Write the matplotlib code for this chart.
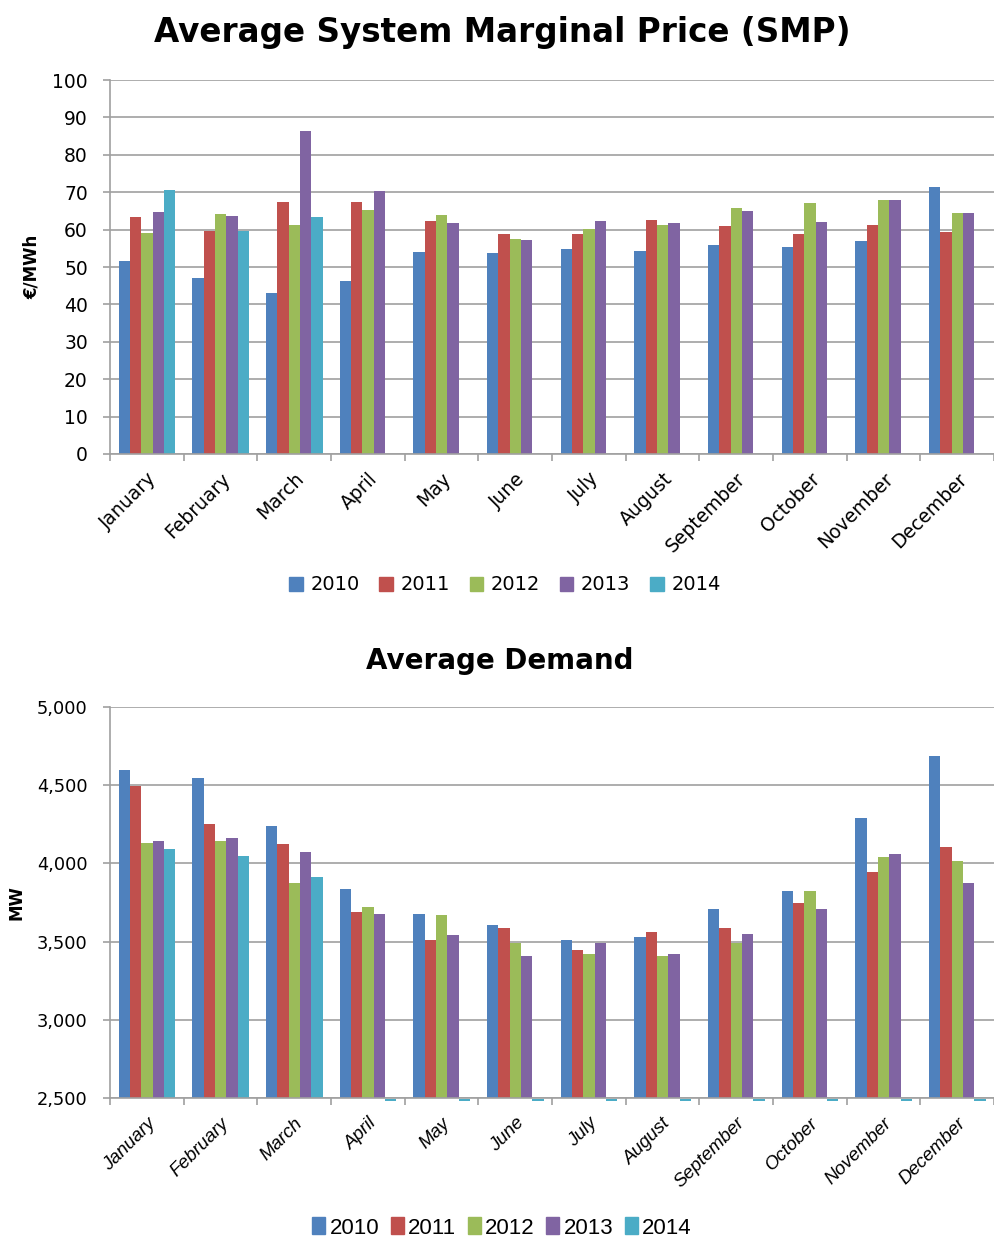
import numpy as np
import matplotlib
matplotlib.use('Agg')
import matplotlib.pyplot as plt
from matplotlib.ticker import FuncFormatter, MultipleLocator
from matplotlib.patches import Patch

plt.rcParams['font.family'] = ['DejaVu Sans']
narrow = ['Liberation Sans Narrow', 'Liberation Sans', 'DejaVu Sans']

months = ['January', 'February', 'March', 'April', 'May', 'June', 'July',
          'August', 'September', 'October', 'November', 'December']
years = ['2010', '2011', '2012', '2013', '2014']
colors = ['#4F81BD', '#C0504D', '#9BBB59', '#8064A2', '#4BACC6']

# Average SMP (EUR/MWh)
smp_2010 = [51.5, 47.1, 43.0, 46.2, 53.9, 53.8, 54.7, 54.2, 56.0, 55.3, 56.9, 71.3]
smp_2011 = [63.5, 59.6, 67.3, 67.3, 62.3, 58.7, 58.7, 62.7, 61.0, 58.9, 61.2, 59.4]
smp_2012 = [59.2, 64.3, 61.1, 65.3, 63.8, 57.6, 60.2, 61.3, 65.8, 67.0, 68.0, 64.5]
smp_2013 = [64.6, 63.6, 86.3, 70.4, 61.8, 57.1, 62.4, 61.8, 65.1, 62.1, 67.9, 64.5]
smp_2014 = [70.5, 59.5, 63.5, 0, 0, 0, 0, 0, 0, 0, 0, 0]

# Average demand (MW)
dem_2010 = [4595, 4546, 4241, 3835, 3677, 3607, 3511, 3528, 3705, 3825, 4290, 4684]
dem_2011 = [4497, 4249, 4121, 3688, 3511, 3588, 3449, 3558, 3588, 3748, 3944, 4102]
dem_2012 = [4132, 4140, 3876, 3724, 3667, 3492, 3422, 3409, 3492, 3825, 4042, 4012]
dem_2013 = [4140, 4162, 4072, 3677, 3539, 3409, 3492, 3422, 3547, 3705, 4061, 3876]
dem_2014 = [4091, 4044, 3914, 0, 0, 0, 0, 0, 0, 0, 0, 0]

smp = [smp_2010, smp_2011, smp_2012, smp_2013, smp_2014]
dem = [dem_2010, dem_2011, dem_2012, dem_2013, dem_2014]

fig = plt.figure(figsize=(9.94, 12.37), dpi=100)
ax1 = fig.add_axes([0.1107, 0.6330, 0.8893, 0.3023])
ax2 = fig.add_axes([0.1107, 0.1124, 0.8893, 0.3161])

x = np.arange(len(months))
bw = 1 / 6.5
offsets = (np.arange(5) - 2) * bw

grid_col = '#a0a0a0'


def style(ax):
    ax.set_xlim(-0.5, 11.5)
    for s in ['top', 'right']:
        ax.spines[s].set_visible(False)
    for s in ['left', 'bottom']:
        ax.spines[s].set_color(grid_col)
        ax.spines[s].set_linewidth(1.2)
    ax.yaxis.grid(True, color=grid_col, linewidth=1.2)
    ax.set_axisbelow(True)
    ax.set_xticks(np.arange(-0.5, 12, 1), minor=True)
    ax.set_xticks(x)
    ax.tick_params(axis='x', which='minor', length=5, color=grid_col, width=1.2)
    ax.tick_params(axis='y', length=5, color=grid_col, width=1.2, pad=11)


# top chart
for i in range(5):
    ax1.bar(x + offsets[i], smp[i], bw, color=colors[i], label=years[i])
style(ax1)
ax1.set_ylim(0, 100)
ax1.yaxis.set_major_locator(MultipleLocator(10))
ax1.tick_params(axis='y', labelsize=13.5)
ax1.tick_params(axis='x', which='major', length=0, pad=11)
ax1.set_xticklabels(months, rotation=45, ha='right', rotation_mode='anchor', fontsize=13.5)
ax1.set_ylabel('€/MWh', fontsize=12, fontweight='bold', labelpad=8)
fig.text(0.505, 0.974, 'Average System Marginal Price (SMP)', ha='center', va='center',
         fontsize=23.5, fontweight='bold')

# bottom chart
for i in range(5):
    ax2.bar(x + offsets[i], dem[i], bw, color=colors[i], label=years[i])
# zero values show as a thin sliver under the axis
zero_idx = [j for j, v in enumerate(dem_2014) if v == 0]
ax2.bar(x[zero_idx] + offsets[4], [-14] * len(zero_idx), bw, bottom=2494,
        color=colors[4], clip_on=False, zorder=5)
style(ax2)
ax2.set_ylim(2500, 5000)
ax2.yaxis.set_major_locator(MultipleLocator(500))
ax2.yaxis.set_major_formatter(FuncFormatter(lambda v, p: '{:,.0f}'.format(v)))
ax2.tick_params(axis='y', labelsize=12.8)
ax2.tick_params(axis='x', which='major', length=0, pad=12)
ax2.set_xticklabels(months, rotation=45, ha='right', rotation_mode='anchor',
                    fontsize=13.5, style='italic', family=narrow)
ax2.set_ylabel('MW', fontsize=12, fontweight='bold', labelpad=8)
fig.text(0.503, 0.466, 'Average Demand', ha='center', va='center',
         fontsize=20, fontweight='bold')

handles = [Patch(color=colors[i], label=years[i]) for i in range(5)]
fig.legend(handles=handles, loc='center', bbox_to_anchor=(0.508, 1 - 585 / 1237), ncol=5,
           frameon=False, fontsize=14, handlelength=0.7, handleheight=0.7,
           handletextpad=0.4, columnspacing=1.0)
fig.legend(handles=handles, loc='center', bbox_to_anchor=(0.505, 1 - 1228 / 1237), ncol=5,
           frameon=False, prop={'family': narrow, 'size': 16}, handlelength=0.6,
           handleheight=0.8, handletextpad=0.2, columnspacing=0.5)

fig.savefig('out.png', dpi=100)
